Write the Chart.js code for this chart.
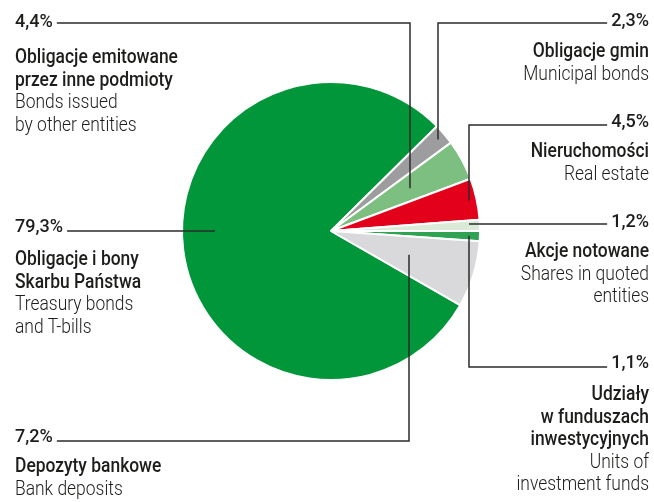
<!DOCTYPE html>
<html>
<head>
<meta charset="utf-8">
<script src="https://cdn.jsdelivr.net/npm/chart.js@4/dist/chart.umd.min.js"></script>
<style>
  html, body { margin: 0; padding: 0; background: #fff; }
  #wrap { position: relative; width: 654px; height: 502px; }
</style>
</head>
<body>
<div id="wrap"><canvas id="structChart"></canvas></div>
<script>
/* =========================
   DATA
========================= */
const namesPl = [
  ['Obligacje i bony', 'Skarbu Państwa'],
  ['Obligacje gmin'],
  ['Obligacje emitowane', 'przez inne podmioty'],
  ['Nieruchomości'],
  ['Akcje notowane'],
  ['Udziały', 'w funduszach', 'inwestycyjnych'],
  ['Depozyty bankowe']
];

const namesEn = [
  ['Treasury bonds', 'and T-bills'],
  ['Municipal bonds'],
  ['Bonds issued', 'by other entities'],
  ['Real estate'],
  ['Shares in quoted', 'entities'],
  ['Units of', 'investment funds'],
  ['Bank deposits']
];

const shares = [79.3, 2.3, 4.4, 4.5, 1.2, 1.1, 7.2];

const sliceColors = ['#009639', '#9d9d9f', '#7dbf80', '#e3001b', '#dbead7', '#2fa352', '#d9d9db'];

/* =========================
   LABEL LAYOUT
   bendX: where the leader turns towards the slice
   tipX : set only for leaders that stay horizontal
========================= */
const labelLayout = [
  { side: 'left',  lineY: 231, pctBase: 232, textBase: 265, tipX: 215 },
  { side: 'right', lineY: 23,  pctBase: 26,  textBase: 57,  bendX: 438 },
  { side: 'left',  lineY: 23,  pctBase: 27,  textBase: 63,  bendX: 410 },
  { side: 'right', lineY: 125, pctBase: 127, textBase: 157, bendX: 469 },
  { side: 'right', lineY: 224, pctBase: 227, textBase: 257, tipX: 469 },
  { side: 'right', lineY: 367, pctBase: 368, textBase: 400, bendX: 469 },
  { side: 'left',  lineY: 441, pctBase: 442, textBase: 472, bendX: 409 }
];

const LEFT_X = 15;
const RIGHT_X = 649;
const LINE_GAP = 22.5;
const FONT = 'Roboto, "Open Sans", sans-serif';
const NAME_SCALE = 0.83;   // narrow the face to a condensed look
const PCT_SCALE = 0.95;

function fmtPct(v){
  return v.toFixed(1).replace('.', ',') + '%';
}

function drawNarrow(c, text, x, y, sx){
  c.save();
  c.translate(x, y);
  c.scale(sx, 1);
  c.fillText(text, 0, 0);
  c.restore();
}

/* =========================
   LEADERS + LABELS PLUGIN
========================= */
const leaderLabels = {
  id: 'leaderLabels',
  afterDatasetsDraw(chart){
    const c = chart.ctx;
    const arcs = chart.getDatasetMeta(0).data;

    c.save();
    c.fillStyle = '#1d1d1b';
    c.textBaseline = 'alphabetic';

    labelLayout.forEach((lay, i) => {
      const arc = arcs[i].getProps(['x', 'y', 'startAngle', 'endAngle'], true);
      const mid = (arc.startAngle + arc.endAngle) / 2;
      const left = lay.side === 'left';
      const tx = left ? LEFT_X : RIGHT_X;
      c.textAlign = left ? 'left' : 'right';

      // percentage
      c.font = '500 19px ' + FONT;
      const pct = fmtPct(shares[i]);
      const w = c.measureText(pct).width * PCT_SCALE;
      drawNarrow(c, pct, tx, lay.pctBase, PCT_SCALE);

      // leader line
      const startX = left ? LEFT_X + w + 4 : RIGHT_X - w - 4;
      c.beginPath();
      c.strokeStyle = '#2b2b2b';
      c.lineWidth = 1.5;
      c.moveTo(startX, lay.lineY);
      if(lay.tipX !== undefined){
        c.lineTo(lay.tipX, lay.lineY);
      } else {
        const tipY = arc.y + (lay.bendX - arc.x) * Math.tan(mid);
        c.lineTo(lay.bendX, lay.lineY);
        c.lineTo(lay.bendX, tipY);
      }
      c.stroke();

      // names
      let y = lay.textBase;
      c.font = '500 21px ' + FONT;
      namesPl[i].forEach(t => {
        drawNarrow(c, t, tx, y, NAME_SCALE);
        y += LINE_GAP;
      });
      c.font = '300 21px ' + FONT;
      namesEn[i].forEach(t => {
        drawNarrow(c, t, tx, y, NAME_SCALE);
        y += LINE_GAP;
      });
    });

    c.restore();
  }
};

/* =========================
   CHART
========================= */
const chartStruct = new Chart(document.getElementById('structChart'), {
  type: 'pie',
  data: {
    labels: namesPl.map(n => n.join(' ')),
    datasets: [{
      data: shares,
      backgroundColor: sliceColors,
      borderColor: '#ffffff',
      borderWidth: 2,
      radius: 149
    }]
  },
  options: {
    responsive: true,
    maintainAspectRatio: false,
    animation: false,
    rotation: 119.88,
    layout: {
      padding: { left: 183, right: 175, top: 83, bottom: 123 }
    },
    plugins: {
      legend: { display: false },
      tooltip: { enabled: false }
    }
  },
  plugins: [leaderLabels]
});
</script>
</body>
</html>
